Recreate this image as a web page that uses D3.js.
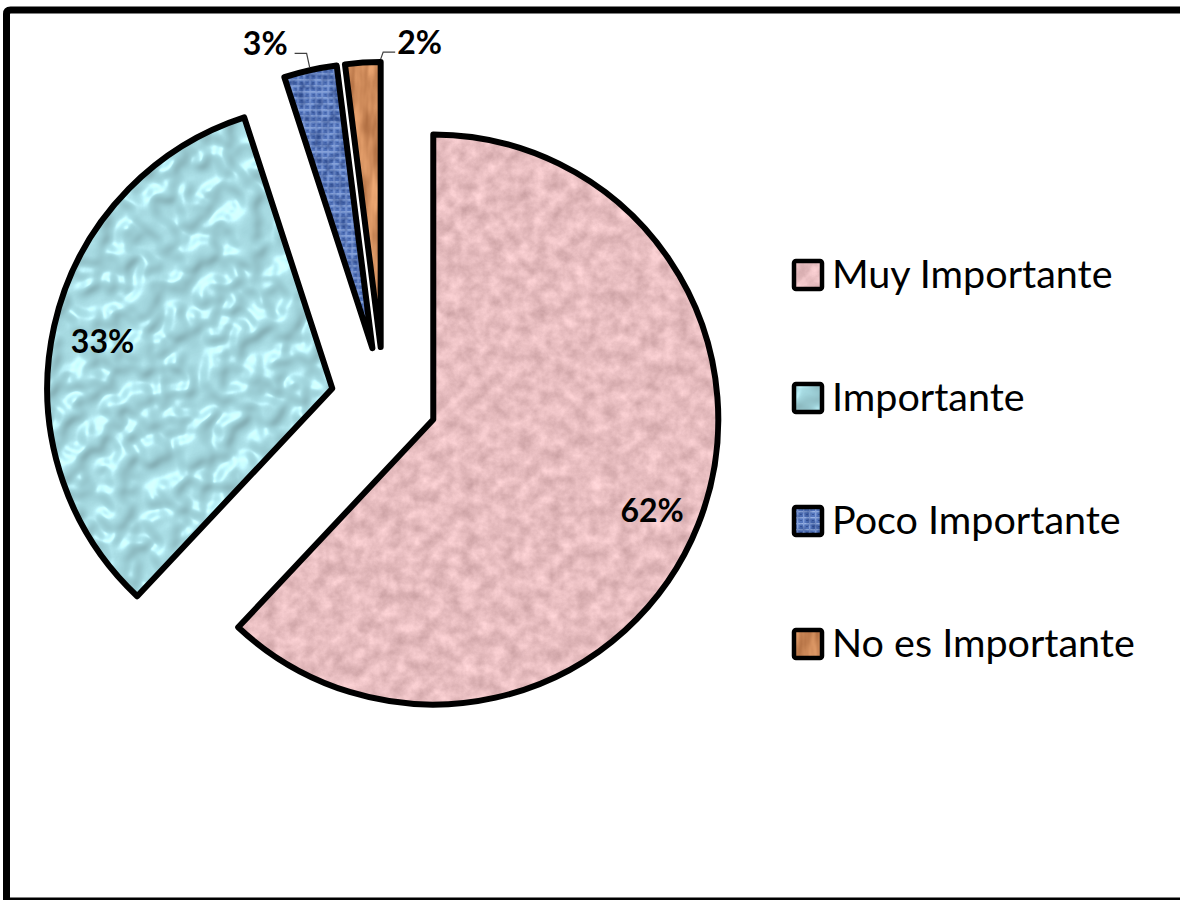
<!DOCTYPE html>
<html>
<head>
<meta charset="utf-8">
<script src="https://cdn.jsdelivr.net/npm/d3@7"></script>
<style>
  html, body { margin: 0; padding: 0; background: #ffffff; overflow: hidden; }
  svg { display: block; }
</style>
</head>
<body>
<svg id="chart" width="1180" height="900"></svg>
<script>
// Survey answers and their shares (percent)
const categories = ["Muy Importante", "Importante", "Poco Importante", "No es Importante"];
const values = [62, 33, 3, 2];
// Where each percentage label sits: on the slice, or outside with a leader line
const labelPlacement = ["inside", "inside", "left", "right"];
// Texture used to fill each slice
const textures = ["tex-pink", "tex-cyan", "tex-blue", "tex-orange"];

const W = 1180, H = 900;
const cx = 384, cy = 400;      // pie centre before explosion
const R = 285;                 // slice radius
const EXPLODE = 53;            // distance every slice is pulled out
const STROKE = 6;

const svg = d3.select("#chart");
const defs = svg.append("defs");

const newFilter = id => defs.append("filter").attr("id", id)
  .attr("color-interpolation-filters", "sRGB")
  .attr("x", "-5%").attr("y", "-5%").attr("width", "110%").attr("height", "110%");

// ---- textures -------------------------------------------------------------
// Mottled pink paper
const fPink = newFilter("tex-pink");
fPink.append("feTurbulence").attr("type", "fractalNoise").attr("baseFrequency", "0.07")
  .attr("numOctaves", 5).attr("seed", 11).attr("result", "n");
fPink.append("feColorMatrix").attr("in", "n").attr("type", "matrix")
  .attr("values", "0.26 0 0 0 0.775  0.26 0 0 0 0.610  0.26 0 0 0 0.620  0 0 0 0 1")
  .attr("result", "c");
fPink.append("feComposite").attr("in", "c").attr("in2", "SourceGraphic").attr("operator", "in");

// Water droplets on light cyan
const fCyan = newFilter("tex-cyan");
fCyan.append("feTurbulence").attr("type", "fractalNoise").attr("baseFrequency", "0.04")
  .attr("numOctaves", 2).attr("seed", 4).attr("result", "n");
const ct = fCyan.append("feComponentTransfer").attr("in", "n").attr("result", "blobs");
ct.append("feFuncA").attr("type", "table").attr("tableValues", "0 0 0.1 0.9 1 1");
fCyan.append("feGaussianBlur").attr("in", "blobs").attr("stdDeviation", 2.4).attr("result", "bb");
fCyan.append("feFlood").attr("flood-color", "#a8dee6").attr("result", "base");
const spec = fCyan.append("feSpecularLighting").attr("in", "bb").attr("surfaceScale", 5)
  .attr("specularConstant", 0.6).attr("specularExponent", 20)
  .attr("lighting-color", "#ffffff").attr("result", "spec");
spec.append("feDistantLight").attr("azimuth", 235).attr("elevation", 40);
const diff = fCyan.append("feDiffuseLighting").attr("in", "bb").attr("surfaceScale", 3)
  .attr("diffuseConstant", 1).attr("lighting-color", "#ffffff").attr("result", "dif");
diff.append("feDistantLight").attr("azimuth", 235).attr("elevation", 55);
fCyan.append("feComposite").attr("in", "base").attr("in2", "dif").attr("operator", "arithmetic")
  .attr("k1", 0.35).attr("k2", 0.67).attr("result", "shaded");
fCyan.append("feComposite").attr("in", "spec").attr("in2", "shaded").attr("operator", "arithmetic")
  .attr("k2", 0.3).attr("k3", 1).attr("result", "lit");
fCyan.append("feComposite").attr("in", "lit").attr("in2", "SourceGraphic").attr("operator", "in");

// Woven blue canvas
const pBlue = defs.append("pattern").attr("id", "weave").attr("patternUnits", "userSpaceOnUse")
  .attr("width", 6).attr("height", 6);
pBlue.append("rect").attr("width", 6).attr("height", 6).attr("fill", "#5577bf");
pBlue.append("rect").attr("x", 0).attr("y", 1).attr("width", 6).attr("height", 1.4).attr("fill", "#98b2e4");
pBlue.append("rect").attr("x", 3).attr("y", 0).attr("width", 1.4).attr("height", 6).attr("fill", "#849fd8");
pBlue.append("rect").attr("x", 0).attr("y", 4).attr("width", 2).attr("height", 1).attr("fill", "#3a579c");
const fBlue = newFilter("tex-blue");
fBlue.append("feTurbulence").attr("type", "fractalNoise").attr("baseFrequency", "0.12")
  .attr("numOctaves", 3).attr("seed", 2).attr("result", "n");
fBlue.append("feColorMatrix").attr("in", "n").attr("type", "matrix")
  .attr("values", "0 0 0 0 0.1  0 0 0 0 0.2  0 0 0 0 0.45  -1.2 0 0 0 0.75").attr("result", "shade");
fBlue.append("feComposite").attr("in", "shade").attr("in2", "SourceGraphic").attr("operator", "atop");

// Orange wood grain
const fOrange = newFilter("tex-orange");
fOrange.append("feTurbulence").attr("type", "fractalNoise").attr("baseFrequency", "0.08 0.02")
  .attr("numOctaves", 3).attr("seed", 9).attr("result", "n");
fOrange.append("feColorMatrix").attr("in", "n").attr("type", "matrix")
  .attr("values", "0.45 0 0 0 0.58  0.42 0 0 0 0.33  0.36 0 0 0 0.17  0 0 0 0 1")
  .attr("result", "c");
fOrange.append("feComposite").attr("in", "c").attr("in2", "SourceGraphic").attr("operator", "in");

const fillFor = i => textures[i] === "tex-blue" ? "url(#weave)" : "#e8bfc2";

// ---- frame (its right side runs past the edge of the page) ----------------
svg.append("path")
  .attr("d", `M${W + 40},10 H10.5 Q6.5,10 6.5,14 V${H + 1} H${W + 40}`)
  .attr("fill", "none").attr("stroke", "#000").attr("stroke-width", 7);

// ---- pie ------------------------------------------------------------------
const pie = d3.pie().sort(null).value(d => d);
const arcs = pie(values);
const arc = d3.arc().innerRadius(0).outerRadius(R);

const mid = d => (d.startAngle + d.endAngle) / 2;
const polar = (a, r) => [Math.sin(a) * r, -Math.cos(a) * r];

const slices = svg.append("g").attr("transform", `translate(${cx},${cy})`)
  .selectAll("g.slice").data(arcs).join("g")
  .attr("class", "slice")
  .attr("transform", d => {
    const [dx, dy] = polar(mid(d), EXPLODE);
    return `translate(${dx},${dy})`;
  });

slices.append("path")
  .attr("d", arc)
  .attr("fill", (d, i) => fillFor(i))
  .attr("filter", (d, i) => `url(#${textures[i]})`);

slices.append("path")
  .attr("d", arc)
  .attr("fill", "none")
  .attr("stroke", "#000")
  .attr("stroke-width", STROKE)
  .attr("stroke-linejoin", "round");

// ---- percentage labels ----------------------------------------------------
const labelFont = "Lato, 'Open Sans', sans-serif";
const labelSize = 32;

slices.each(function (d, i) {
  const g = d3.select(this);
  const text = values[i] + "%";
  if (labelPlacement[i] === "inside") {
    const [x, y] = polar(mid(d), R * 0.826);
    g.append("text")
      .attr("x", x).attr("y", y + labelSize * 0.36 + 4)
      .attr("text-anchor", "middle")
      .attr("font-family", labelFont).attr("font-weight", 700)
      .attr("font-size", labelSize).attr("fill", "#000")
      .text(text);
  } else {
    const left = labelPlacement[i] === "left";
    const a = left ? mid(d) : d.endAngle;
    const [ax, ay] = polar(a, R + 3);
    const lineY = -R - 10;
    const ex = ax + (left ? -3 : 2.5);
    const hx = ex + (left ? -12 : 12);
    g.append("path")
      .attr("d", `M${ax},${ay}L${ex},${lineY}L${hx},${lineY}`)
      .attr("fill", "none").attr("stroke", "#404040").attr("stroke-width", 1.2);
    g.append("text")
      .attr("x", hx + (left ? -7 : 2)).attr("y", lineY + 2)
      .attr("text-anchor", left ? "end" : "start")
      .attr("font-family", labelFont).attr("font-weight", 700)
      .attr("font-size", labelSize).attr("fill", "#000")
      .text(text);
  }
});

// ---- legend ---------------------------------------------------------------
const legendY = d3.scalePoint().domain(categories).range([288, 657]);
const sw = 28;
const legend = svg.append("g").selectAll("g.item").data(categories).join("g")
  .attr("class", "item")
  .attr("transform", d => `translate(794,${legendY(d)})`);

legend.append("rect")
  .attr("x", 0).attr("y", -sw + 1).attr("width", sw).attr("height", sw)
  .attr("fill", (d, i) => fillFor(i))
  .attr("filter", (d, i) => `url(#${textures[i]})`);
legend.append("rect")
  .attr("x", 0).attr("y", -sw + 1).attr("width", sw).attr("height", sw).attr("rx", 2)
  .attr("fill", "none").attr("stroke", "#000").attr("stroke-width", 4.5);

legend.append("text")
  .attr("x", 38).attr("y", 0)
  .attr("font-family", "Lato, 'Open Sans', sans-serif")
  .attr("font-size", 39.5).attr("fill", "#000")
  .text(d => d);
</script>
</body>
</html>
